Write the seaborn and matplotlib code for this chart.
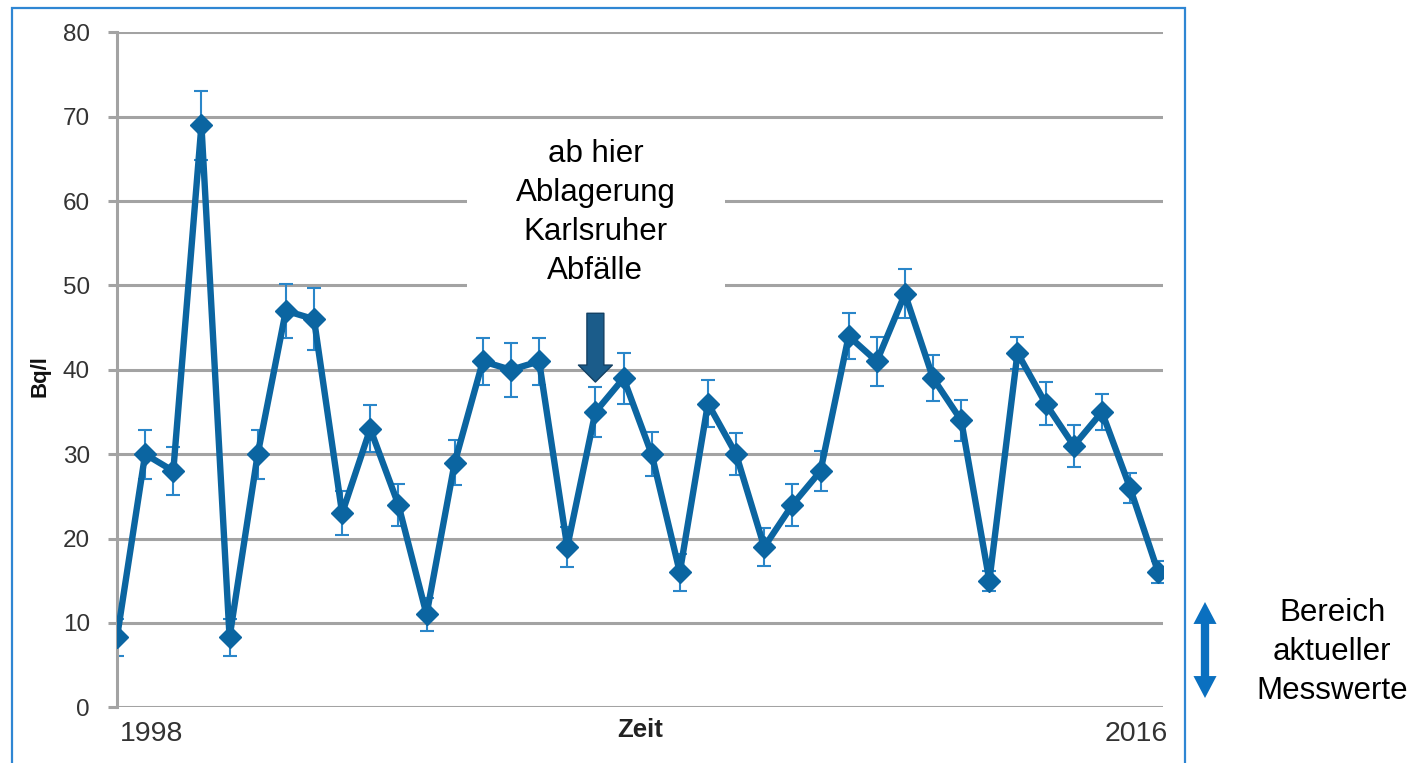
import numpy as np
import pandas as pd
import seaborn as sns
import matplotlib.pyplot as plt
from matplotlib.patches import Rectangle

# Halbjährliche Messwerte (Bq/l) mit Messunsicherheit
werte = [8.3, 30, 28, 69, 8.3, 30, 47, 46, 23, 33, 24, 11, 29, 41, 40, 41, 19,
         35, 39, 30, 16, 36, 30, 19, 24, 28, 44, 41, 49, 39, 34, 15, 42, 36,
         31, 35, 26, 16]
fehler = [2.2, 2.9, 2.8, 4.1, 2.2, 2.9, 3.2, 3.7, 2.6, 2.8, 2.5, 2.0, 2.7, 2.8,
          3.2, 2.8, 2.4, 3.0, 3.0, 2.6, 2.2, 2.8, 2.5, 2.3, 2.5, 2.4, 2.7, 2.9,
          2.9, 2.7, 2.4, 1.2, 1.9, 2.6, 2.5, 2.1, 1.8, 1.3]
jahr_anfang = "1998"
jahr_ende = "2016"
y_ticks = [0, 10, 20, 30, 40, 50, 60, 70, 80]
markierung_index = 17   # Messung, ab der die Karlsruher Abfälle abgelagert wurden

df = pd.DataFrame({"messung": np.arange(len(werte)), "wert": werte, "fehler": fehler})

sns.set_style("white")
plt.rcParams["font.family"] = ["Liberation Sans", "DejaVu Sans"]

LINIE = "#0b65a1"
FEHLER = "#2a86c9"
GITTER = "#a3a3a3"
TEXT = "#333333"

W, H = 1414, 763
fig = plt.figure(figsize=(W / 100, H / 100), dpi=100)
ax = fig.add_axes([117 / W, 1 - 707.3 / H, (1162.7 - 117) / W, (707.3 - 32.3) / H])

# Fehlerbalken unter der Linie
ax.errorbar(df["messung"], df["wert"], yerr=df["fehler"], fmt="none",
            ecolor=FEHLER, elinewidth=1.5, capsize=5, capthick=1.5, zorder=2)

sns.lineplot(data=df, x="messung", y="wert", ax=ax, color=LINIE, linewidth=4.6,
             marker="D", markersize=11, markeredgecolor=LINIE,
             markeredgewidth=1, zorder=3)

ax.set_ylim(0, 80)
ax.set_xlim(0, 37.16)
ax.set_yticks(y_ticks)
ax.set_xticks([])
ax.yaxis.grid(True, color=GITTER, linewidth=2.2)
ax.set_axisbelow(True)
for s in ["top", "right", "bottom"]:
    ax.spines[s].set_visible(False)
ax.spines["left"].set_color(GITTER)
ax.spines["left"].set_linewidth(2.2)
ax.tick_params(axis="y", length=6.5, width=2.2, color=GITTER, pad=13,
               labelsize=17.5, labelcolor=TEXT, left=True)

ax.set_ylabel("Bq/l", fontweight="bold", fontsize=16, color="#111111")
ax.yaxis.set_label_coords(-0.064, 0.49)
ax.set_xlabel("Zeit", fontweight="bold", fontsize=18.5, color="#222222", labelpad=8)

ax.text(0.003, -0.0396, jahr_anfang, transform=ax.transAxes, ha="left",
        va="center", fontsize=20.5, color=TEXT)
ax.text(1.005, -0.0396, jahr_ende, transform=ax.transAxes, ha="right",
        va="center", fontsize=20.5, color=TEXT)

# Weißes Feld hinter dem Hinweistext
ax.add_patch(Rectangle((12.44, 49.1), 9.16, 19.3, facecolor="white",
                       edgecolor="none", zorder=1.5))
ax.text(markierung_index, 58.6, "ab hier\nAblagerung\nKarlsruher\nAbfälle",
        ha="center", va="center", fontsize=22.5, linespacing=1.39,
        color="black", zorder=4)
ax.annotate("", xy=(markierung_index, 38.55), xytext=(markierung_index, 46.7),
            arrowprops=dict(arrowstyle="simple,head_length=0.61,head_width=1.22,tail_width=0.61",
                            mutation_scale=20, fc="#1b5c8a", ec="#123f62", lw=1,
                            shrinkA=0, shrinkB=0),
            zorder=5)

# Bereich aktueller Messwerte (außerhalb des Diagrammrahmens)
for ende in (161, 65):
    ax.annotate("", xy=(1205, ende), xytext=(1205, 113), xycoords="figure pixels",
                textcoords="figure pixels", annotation_clip=False,
                arrowprops=dict(arrowstyle="simple,head_length=1.58,head_width=1.66,tail_width=0.6",
                                mutation_scale=10, fc="#0a70c0", ec="none",
                                shrinkA=0, shrinkB=0))
fig.text(1332 / W, 1 - 652 / H, "Bereich\naktueller\nMesswerte", ha="center",
         va="center", fontsize=22.5, linespacing=1.38, color="black")

# Rahmen um das Diagramm
fig.add_artist(Rectangle((12 / W, -0.05), (1185 - 12) / W, 1 - 8 / H + 0.05,
                         transform=fig.transFigure, fill=False,
                         edgecolor="#2f86d3", linewidth=1.6))

fig.savefig("out.png", dpi=100)
